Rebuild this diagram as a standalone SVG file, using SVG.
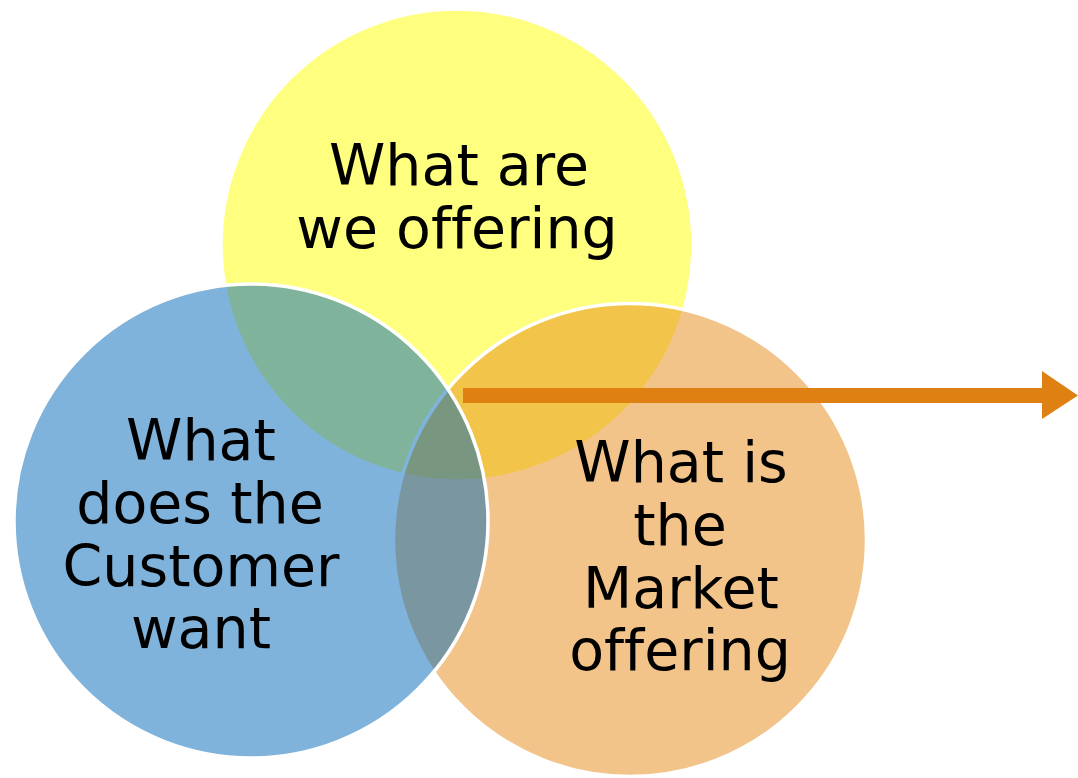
<svg xmlns="http://www.w3.org/2000/svg" width="1078" height="778" viewBox="0 0 1078 778">
<style>
.c{stroke:#ffffff;stroke-width:3.5;fill-opacity:0.5}
.t{font-family:"DejaVu Sans","Liberation Sans",sans-serif;font-size:57px;fill:#000000;text-anchor:middle;font-variant-ligatures:none}
</style>
<rect width="1078" height="778" fill="#ffffff"/>
<g id="offering">
<circle class="c" cx="457" cy="245" r="236" fill="#ffff00"/>
<text class="t" x="459" y="185">What are</text>
<text class="t" x="457" y="248">we offering</text>
</g>
<g id="market">
<circle class="c" cx="630" cy="540" r="236.5" fill="#e58915"/>
</g>
<g id="customer">
<circle class="c" cx="251" cy="521" r="237" fill="#0068b8"/>
<text class="t" x="201" y="460">What</text>
<text class="t" x="200" y="523">does the</text>
<text class="t" x="201" y="586">Customer</text>
<text class="t" x="201" y="648">want</text>
</g>
<g id="market-text">
<text class="t" x="681" y="482">What is</text>
<text class="t" x="680" y="545">the</text>
<text class="t" x="681" y="608">Market</text>
<text class="t" x="680" y="670">offering</text>
</g>
<g id="connectors">
<polygon points="463,388 1042,388 1042,371 1078,395.5 1042,419 1042,403 463,403" fill="#df8012"/>
</g>
</svg>
